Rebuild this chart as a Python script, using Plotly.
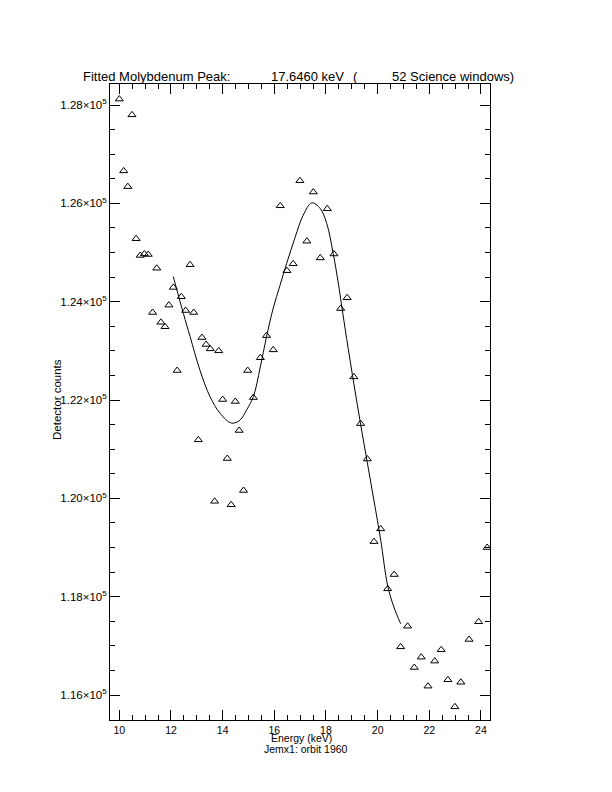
import plotly.graph_objects as go

# Measured spectrum points (energy in keV, detector counts)
energy = [10.00, 10.17, 10.33, 10.49, 10.65, 10.81, 10.97, 11.12, 11.29, 11.45,
          11.61, 11.77, 11.92, 12.09, 12.24, 12.40, 12.57, 12.74, 12.88, 13.06,
          13.20, 13.36, 13.52, 13.69, 13.85, 14.00, 14.18, 14.33, 14.49, 14.64,
          14.81, 14.97, 15.19, 15.46, 15.70, 15.96, 16.23, 16.49, 16.73, 16.99,
          17.26, 17.51, 17.78, 18.05, 18.31, 18.57, 18.82, 19.08, 19.34, 19.60,
          19.86, 20.12, 20.39, 20.64, 20.89, 21.16, 21.42, 21.69, 21.95, 22.21,
          22.46, 22.72, 22.99, 23.22, 23.54, 23.91, 24.24]
counts = [128120, 126660, 126340, 127800, 125280, 124940, 124970, 124960, 123780, 124680,
          123580, 123490, 123930, 124290, 122600, 124100, 123820, 124750, 123780, 121190,
          123270, 123130, 123040, 119940, 123000, 122010, 120810, 119870, 121970, 121380,
          120160, 122600, 122050, 122860, 123310, 123020, 125950, 124630, 124770, 126460,
          125230, 126230, 124890, 125890, 124970, 123860, 124080, 122470, 121520, 120800,
          119120, 119380, 118160, 118450, 116980, 117400, 116560, 116770, 116180, 116690,
          116920, 116310, 115760, 116260, 117130, 117490, 119000]

# Fitted peak curve (traced)
fit_energy = [12.09, 12.48, 12.74, 13.12, 13.51, 13.90, 14.35, 14.67, 14.93, 15.19,
              15.45, 15.70, 15.96, 16.22, 16.48, 16.80, 17.12, 17.45, 17.77, 18.03,
              18.28, 18.48, 18.61, 18.80, 19.08, 19.34, 19.60, 19.86, 20.12, 20.39,
              20.63, 20.89]
fit_counts = [124510, 123760, 123290, 122610, 122070, 121730, 121530, 121590, 121800, 122070,
              122650, 123290, 123870, 124330, 124780, 125300, 125760, 126010, 125900, 125590,
              124980, 124370, 123910, 123250, 122330, 121510, 120730, 119950, 119150, 118220,
              117790, 117450]

x_tick_values = [10, 12, 14, 16, 18, 20, 22, 24]
x_tick_labels = ["10", "12", "14", "16", "18", "20", "22", "24"]
y_tick_values = [116000, 118000, 120000, 122000, 124000, 126000, 128000]
y_tick_labels = ["1.16×10<sup>5</sup>", "1.18×10<sup>5</sup>", "1.20×10<sup>5</sup>",
                 "1.22×10<sup>5</sup>", "1.24×10<sup>5</sup>", "1.26×10<sup>5</sup>",
                 "1.28×10<sup>5</sup>"]

FONT = "Liberation Sans, Arial, sans-serif"

fig = go.Figure()
fig.add_trace(go.Scatter(
    x=energy, y=counts, mode="markers",
    marker=dict(symbol="triangle-up-open", size=7, color="black", line=dict(width=1, color="black")),
    showlegend=False, hoverinfo="skip"))
fig.add_trace(go.Scatter(
    x=fit_energy, y=fit_counts, mode="lines",
    line=dict(color="black", width=1, shape="spline", smoothing=1.0),
    showlegend=False, hoverinfo="skip"))

axis_common = dict(
    showgrid=False, zeroline=False, showline=True, linecolor="black", linewidth=1,
    mirror="ticks", ticks="inside", tickcolor="black", tickwidth=1, ticklen=10,
)

fig.update_xaxes(range=[9.64, 24.35], tickmode="array", tickvals=x_tick_values, ticktext=x_tick_labels,
                 tickfont=dict(family=FONT, size=10.5, color="black"),
                 minor=dict(dtick=0.5, tick0=10, ticks="inside", ticklen=5, tickcolor="black", tickwidth=1),
                 **axis_common)
fig.update_yaxes(range=[115492, 128427], tickmode="array", tickvals=y_tick_values, ticktext=y_tick_labels,
                 tickfont=dict(family=FONT, size=11.5, color="black"),
                 minor=dict(dtick=500, tick0=116000, ticks="inside", ticklen=5, tickcolor="black", tickwidth=1),
                 **axis_common)

# convert reference pixel positions (page coords) to paper fractions of the plot area
def px(xp):
    return (xp - 110) / 380.0

def py(yp):
    return (720 - yp) / 636.0

tfont = dict(family=FONT, size=13, color="black")
afont = dict(family=FONT, size=10.5, color="black")
annotations = [
    dict(text="Fitted Molybdenum Peak:", x=px(81), y=py(76.5), xanchor="left", yanchor="middle", font=tfont),
    dict(text="17.6460 keV", x=px(268.5), y=py(76.5), xanchor="left", yanchor="middle", font=tfont),
    dict(text="(", x=px(351), y=py(76.5), xanchor="left", yanchor="middle", font=tfont),
    dict(text="52 Science windows)", x=px(390), y=py(76.5), xanchor="left", yanchor="middle", font=tfont),
    dict(text="Energy (keV)", x=px(301), y=py(737.5), xanchor="center", yanchor="middle", font=afont),
    dict(text="Jemx1: orbit 1960", x=px(306), y=py(749.5), xanchor="center", yanchor="middle", font=afont),
    dict(text="Detector counts", x=px(57), y=py(400), xanchor="center", yanchor="middle",
         textangle=-90, font=dict(family=FONT, size=11.5, color="black")),
]
for a in annotations:
    a.update(xref="paper", yref="paper", showarrow=False)

# the page body adds an 8px offset, so margins are reduced accordingly
fig.update_layout(
    width=612, height=792, autosize=False,
    margin=dict(l=102, r=130, t=76, b=80, pad=0),
    paper_bgcolor="white", plot_bgcolor="white",
    annotations=annotations,
    font=dict(family=FONT, color="black"),
)

fig.write_html("out.html")
